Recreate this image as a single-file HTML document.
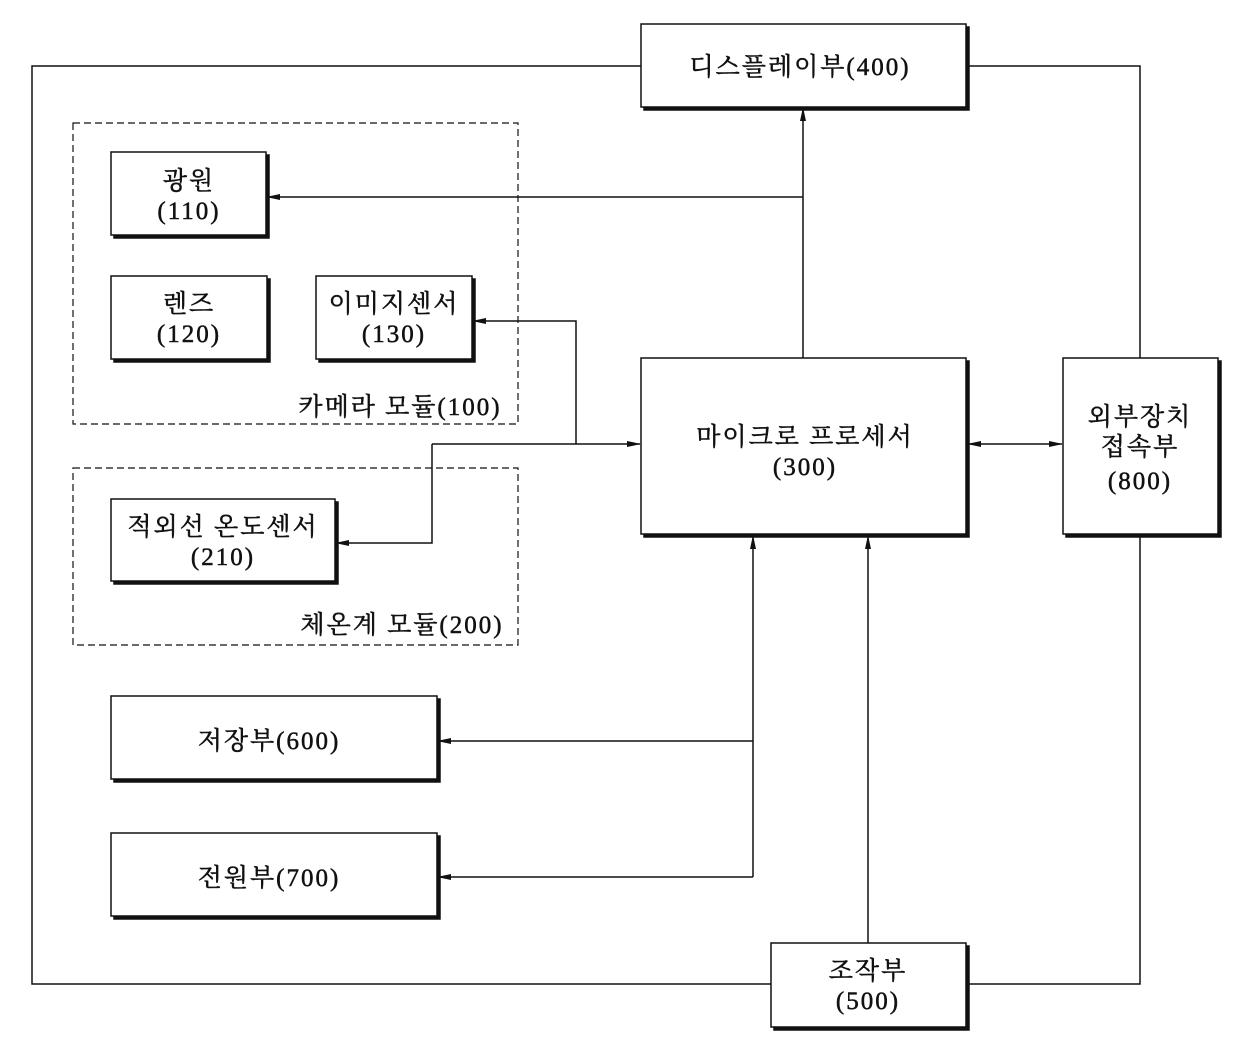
<!DOCTYPE html>
<html><head><meta charset="utf-8"><style>
body{margin:0;background:#fff}
text{font-family:"Liberation Serif","Noto Serif CJK SC","Noto Sans CJK KR",serif;font-size:25px;fill:#111;stroke:#111;stroke-width:0.5;letter-spacing:2px;text-anchor:middle}
</style></head><body>
<svg width="1240" height="1048" viewBox="0 0 1240 1048" xmlns="http://www.w3.org/2000/svg">
<defs><marker id="a" markerWidth="14" markerHeight="8" refX="13" refY="4" orient="auto" markerUnits="userSpaceOnUse"><path d="M0,1 L14,4 L0,7 Z" fill="#111"/></marker>
<marker id="s" markerWidth="14" markerHeight="8" refX="1" refY="4" orient="auto" markerUnits="userSpaceOnUse"><path d="M14,1 L0,4 L14,7 Z" fill="#111"/></marker></defs>
<g fill="none" stroke="#111" stroke-width="1.5">
<rect x="32" y="66" width="1108" height="918"/>
<rect x="73" y="123" width="445" height="301" stroke-dasharray="7,4" stroke-width="1.2"/>
<rect x="73" y="468" width="445" height="177" stroke-dasharray="7,4" stroke-width="1.2"/>
<line x1="803" y1="358" x2="803" y2="108" marker-end="url(#a)"/>
<line x1="803" y1="197" x2="267" y2="197" marker-end="url(#a)"/>
<polyline points="576,444 576,321 473,321" marker-end="url(#a)"/>
<line x1="432" y1="444" x2="640" y2="444" marker-end="url(#a)"/>
<polyline points="432,444 432,543 336,543" marker-end="url(#a)"/>
<line x1="968" y1="444" x2="1062" y2="444" marker-start="url(#s)" marker-end="url(#a)"/>
<polyline points="753,877 753,536" marker-end="url(#a)"/>
<line x1="753" y1="741" x2="438" y2="741" marker-end="url(#a)"/>
<line x1="753" y1="877" x2="438" y2="877" marker-end="url(#a)"/>
<line x1="868" y1="943" x2="868" y2="536" marker-end="url(#a)"/>
</g>
<g fill="#fff" stroke="#111" stroke-width="1.5">
<g><rect x="644" y="27" width="325" height="83" fill="#111"/><rect x="641" y="24" width="325" height="83"/></g>
<g><rect x="114" y="155" width="155" height="83" fill="#111"/><rect x="111" y="152" width="155" height="83"/></g>
<g><rect x="114" y="279" width="156" height="83" fill="#111"/><rect x="111" y="276" width="156" height="83"/></g>
<g><rect x="319" y="279" width="156" height="83" fill="#111"/><rect x="316" y="276" width="156" height="83"/></g>
<g><rect x="114" y="502" width="224" height="82" fill="#111"/><rect x="111" y="499" width="224" height="82"/></g>
<g><rect x="644" y="361" width="325" height="176" fill="#111"/><rect x="641" y="358" width="325" height="176"/></g>
<g><rect x="1066" y="361" width="155" height="176" fill="#111"/><rect x="1063" y="358" width="155" height="176"/></g>
<g><rect x="114" y="699" width="326" height="83" fill="#111"/><rect x="111" y="696" width="326" height="83"/></g>
<g><rect x="114" y="836" width="326" height="83" fill="#111"/><rect x="111" y="833" width="326" height="83"/></g>
<g><rect x="774" y="946" width="195" height="84" fill="#111"/><rect x="771" y="943" width="195" height="84"/></g>
</g>
<text x="800" y="75">디스플레이부(400)</text>
<text x="189" y="189">광원</text><text x="189" y="219">(110)</text>
<text x="189" y="312">렌즈</text><text x="189" y="342">(120)</text>
<text x="394" y="312">이미지센서</text><text x="394" y="342">(130)</text>
<text x="400" y="415">카메라 모듈(100)</text>
<text x="223" y="535">적외선 온도센서</text><text x="223" y="565">(210)</text>
<text x="402" y="633">체온계 모듈(200)</text>
<text x="805" y="445">마이크로 프로세서</text><text x="805" y="475">(300)</text>
<text x="1140" y="425">외부장치</text><text x="1140" y="455">접속부</text><text x="1140" y="489">(800)</text>
<text x="269" y="749">저장부(600)</text>
<text x="269" y="886">전원부(700)</text>
<text x="868" y="979">조작부</text><text x="868" y="1009">(500)</text>
</svg>
</body></html>
